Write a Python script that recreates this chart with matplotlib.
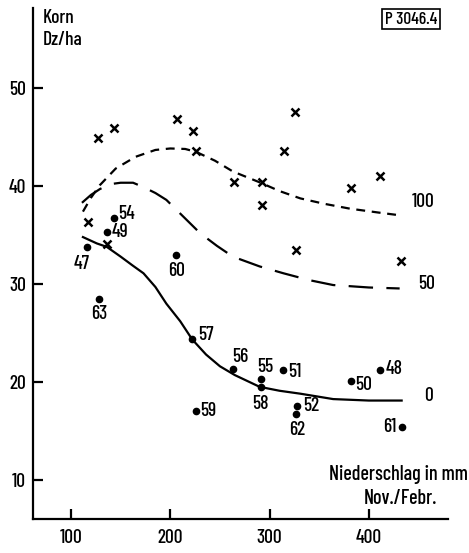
import matplotlib
matplotlib.use("Agg")
import matplotlib.pyplot as plt

plt.rcParams['font.family'] = ['Barlow Condensed', 'DejaVu Sans']
plt.rcParams['font.weight'] = 'medium'

# crosses (N-Düngung 100)
cross_x = [117, 127.5, 143, 136, 207, 222.5, 226, 264, 292, 292, 314.5, 325.6, 327, 382, 411, 432]
cross_y = [36.3, 44.9, 45.9, 34.05, 46.9, 45.6, 43.6, 40.4, 40.4, 38.1, 43.6, 47.6, 33.5, 39.8, 41.05, 32.35]

# dots (N 0) with year labels
dot_lab = ['47', '54', '49', '60', '63', '57', '56', '55', '58', '51', '52', '62', '59', '50', '48', '61']
dot_x = [116, 143, 136.6, 206, 128, 222, 263.5, 291, 291, 314, 328, 326.6, 226, 381.6, 411, 433.6]
dot_y = [33.8, 36.7, 35.3, 33.0, 28.5, 24.35, 21.3, 20.35, 19.5, 21.2, 17.5, 16.7, 17.0, 20.1, 21.2, 15.4]

# curves
c100_x = [112, 120, 129, 145, 165, 185, 200, 215, 226, 245, 263, 291, 310, 331, 355, 381, 410, 433]
c100_y = [37.4, 38.8, 40.1, 41.8, 43.0, 43.7, 43.85, 43.8, 43.5, 42.6, 41.5, 40.35, 39.5, 38.75, 38.2, 37.7, 37.3, 37.0]

c50_x = [111, 120, 129, 139, 150, 162.5, 173, 185, 196, 212, 230, 247, 263, 290, 314, 340, 364, 400, 431]
c50_y = [38.3, 39.1, 39.7, 40.2, 40.35, 40.35, 39.9, 39.3, 38.6, 37.0, 35.2, 33.9, 32.8, 31.8, 31.1, 30.4, 29.9, 29.65, 29.55]

c0_x = [112, 126, 136, 150, 162, 173, 185, 196, 210, 222, 236, 250, 265, 290, 310, 331, 364, 400, 433]
c0_y = [34.8, 34.15, 33.8, 32.8, 31.9, 31.1, 29.7, 28.0, 26.2, 24.35, 22.8, 21.6, 20.7, 19.5, 19.1, 18.8, 18.25, 18.1, 18.1]

curve_labels = ['100', '50', '0']
x_ticks = [100, 200, 300, 400]
y_ticks = [10, 20, 30, 40, 50]

FS = 14

fig = plt.figure(figsize=(4.69, 5.53), dpi=100)
ax = fig.add_axes([33/469, 1-519/553, (448-33)/469, (519-8)/553])
ax.set_xlim(61.7, 479.7)
ax.set_ylim(6.0, 58.2)

for s in ['top', 'right']:
    ax.spines[s].set_visible(False)
for s in ['left', 'bottom']:
    ax.spines[s].set_linewidth(1.6)
    ax.spines[s].set_color('black')

ax.set_xticks(x_ticks)
ax.set_yticks(y_ticks)
ax.tick_params(direction='in', length=7, width=1.6, labelsize=FS, colors='black')
ax.tick_params(axis='x', pad=7)
ax.tick_params(axis='y', pad=5)

lw = 1.6
ax.plot(c100_x, c100_y, color='black', lw=lw, dashes=(4, 3))
ax.plot(c50_x, c50_y, color='black', lw=lw, dashes=(11, 6))
ax.plot(c0_x, c0_y, color='black', lw=lw)

ax.plot(cross_x, cross_y, 'x', color='black', ms=6, mew=1.8, ls='none')
ax.plot(dot_x, dot_y, 'o', color='black', ms=4.5, ls='none')

# label offsets (points) and alignment for each year label
offs = {
    '47': (-4, -12, 'center'), '54': (3, 3, 'left'), '49': (3, 0, 'left'),
    '60': (0, -12, 'center'), '63': (0, -11, 'center'), '57': (4, 3, 'left'),
    '56': (5, 9, 'center'), '55': (3, 8, 'center'), '58': (0, -12, 'center'),
    '51': (3, -1, 'left'), '52': (4, 0, 'left'), '62': (1, -11, 'center'),
    '59': (3, 0, 'left'), '50': (3, -3, 'left'), '48': (4, 1, 'left'),
    '61': (-4, 0, 'right'),
}
for lab, x, y in zip(dot_lab, dot_x, dot_y):
    dx, dy, ha = offs[lab]
    ax.annotate(lab, (x, y), xytext=(dx, dy), textcoords='offset points',
                ha=ha, va='center', fontsize=FS)

cl_offs = [(7, 10), (13, 3.5), (16, 3.5)]
ends = [(c100_x[-1], c100_y[-1]), (c50_x[-1], c50_y[-1]), (c0_x[-1], c0_y[-1])]
for lab, (x, y), o in zip(curve_labels, ends, cl_offs):
    ax.annotate(lab, (x, y), xytext=o, textcoords='offset points',
                ha='left', va='center', fontsize=FS)

fig.text(43/469, 1-18/553, 'Korn', fontsize=14, ha='left', va='center')
fig.text(43/469, 1-40/553, 'Dz/ha', fontsize=14, ha='left', va='center')
fig.text(468/469, 1-475/553, 'Niederschlag in mm', fontsize=14.5, ha='right', va='center')
fig.text(437/469, 1-498/553, 'Nov./Febr.', fontsize=14.5, ha='right', va='center')
fig.text(411/469, 1-19/553, 'P 3046.4', fontsize=12.5, ha='center', va='center',
         bbox=dict(boxstyle='square,pad=0.15', fc='white', ec='black', lw=1.2))

fig.savefig('out.png', dpi=100, facecolor='white')
